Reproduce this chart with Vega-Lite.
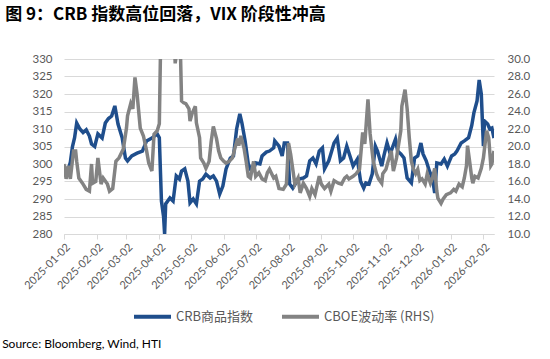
{
  "$schema": "https://vega.github.io/schema/vega-lite/v6.json",
  "background": "white",
  "padding": {"left": 2, "top": 6, "right": 5, "bottom": 2},
  "config": {"view": {"stroke": null}, "font": "Lato", "axis": {"labelOverlap": false}, "axisX": {"labelOverlap": false}},
  "title": {"text": "Source: Bloomberg, Wind, HTI", "orient": "bottom", "anchor": "start", "frame": "bounds", "font": "Lato", "fontSize": 12, "fontWeight": "normal", "color": "#000000", "offset": 14, "dx": -3},
  "datasets": {
    "crb": [
      {"date":"2025-01-02","crb":299.5},{"date":"2025-01-05","crb":297.4},{"date":"2025-01-08","crb":300.5},{"date":"2025-01-10","crb":305.0},{"date":"2025-01-12","crb":307.5},{"date":"2025-01-14","crb":311.7},{"date":"2025-01-17","crb":310.0},{"date":"2025-01-20","crb":309.0},{"date":"2025-01-23","crb":309.8},{"date":"2025-01-26","crb":308.0},{"date":"2025-01-28","crb":305.7},{"date":"2025-01-31","crb":305.0},
      {"date":"2025-02-03","crb":308.6},{"date":"2025-02-07","crb":307.4},{"date":"2025-02-10","crb":311.7},{"date":"2025-02-13","crb":313.0},{"date":"2025-02-16","crb":313.7},{"date":"2025-02-19","crb":316.6},{"date":"2025-02-22","crb":311.4},{"date":"2025-02-26","crb":307.4},
      {"date":"2025-03-01","crb":301.7},{"date":"2025-03-03","crb":300.9},{"date":"2025-03-07","crb":302.3},{"date":"2025-03-12","crb":303.1},{"date":"2025-03-17","crb":303.7},{"date":"2025-03-21","crb":306.6},{"date":"2025-03-26","crb":307.4},{"date":"2025-03-31","crb":308.6},
      {"date":"2025-04-02","crb":307.5},{"date":"2025-04-04","crb":289.4},{"date":"2025-04-06","crb":285.0},{"date":"2025-04-07","crb":280.0},{"date":"2025-04-08","crb":288.6},{"date":"2025-04-12","crb":290.3},{"date":"2025-04-15","crb":289.4},{"date":"2025-04-18","crb":296.6},{"date":"2025-04-21","crb":295.7},{"date":"2025-04-23","crb":298.0},{"date":"2025-04-26","crb":298.6},{"date":"2025-04-29","crb":295.1},
      {"date":"2025-05-01","crb":288.9},{"date":"2025-05-04","crb":290.0},{"date":"2025-05-07","crb":288.6},{"date":"2025-05-10","crb":295.1},{"date":"2025-05-13","crb":295.7},{"date":"2025-05-16","crb":297.1},{"date":"2025-05-20","crb":296.0},{"date":"2025-05-23","crb":296.6},{"date":"2025-05-26","crb":295.1},{"date":"2025-05-29","crb":291.4},
      {"date":"2025-06-01","crb":293.7},{"date":"2025-06-04","crb":298.6},{"date":"2025-06-08","crb":301.7},{"date":"2025-06-11","crb":302.3},{"date":"2025-06-14","crb":310.0},{"date":"2025-06-17","crb":314.3},{"date":"2025-06-19","crb":311.7},{"date":"2025-06-22","crb":306.6},{"date":"2025-06-25","crb":300.0},{"date":"2025-06-27","crb":298.6},
      {"date":"2025-07-01","crb":299.4},{"date":"2025-07-02","crb":300.3},{"date":"2025-07-06","crb":300.0},{"date":"2025-07-08","crb":302.3},{"date":"2025-07-12","crb":303.4},{"date":"2025-07-15","crb":303.7},{"date":"2025-07-19","crb":304.6},{"date":"2025-07-20","crb":306.6},{"date":"2025-07-24","crb":305.1},{"date":"2025-07-27","crb":302.3},{"date":"2025-07-29","crb":306.0},
      {"date":"2025-08-01","crb":306.0},{"date":"2025-08-03","crb":294.3},{"date":"2025-08-06","crb":293.1},{"date":"2025-08-09","crb":294.6},{"date":"2025-08-12","crb":295.7},{"date":"2025-08-16","crb":296.0},{"date":"2025-08-19","crb":296.6},{"date":"2025-08-22","crb":300.9},{"date":"2025-08-25","crb":301.7},{"date":"2025-08-28","crb":300.0},{"date":"2025-08-31","crb":303.7},
      {"date":"2025-09-03","crb":304.6},{"date":"2025-09-05","crb":298.6},{"date":"2025-09-09","crb":300.9},{"date":"2025-09-11","crb":302.9},{"date":"2025-09-14","crb":306.0},{"date":"2025-09-17","crb":307.4},{"date":"2025-09-20","crb":300.9},{"date":"2025-09-23","crb":301.7},{"date":"2025-09-26","crb":305.1},{"date":"2025-09-29","crb":302.3},
      {"date":"2025-10-02","crb":299.4},{"date":"2025-10-06","crb":301.4},{"date":"2025-10-09","crb":295.1},{"date":"2025-10-12","crb":293.1},{"date":"2025-10-14","crb":294.6},{"date":"2025-10-17","crb":294.3},{"date":"2025-10-20","crb":297.1},{"date":"2025-10-23","crb":305.1},{"date":"2025-10-25","crb":303.7},{"date":"2025-10-29","crb":299.4},{"date":"2025-10-31","crb":302.3},
      {"date":"2025-11-03","crb":306.0},{"date":"2025-11-06","crb":302.9},{"date":"2025-11-08","crb":304.6},{"date":"2025-11-11","crb":307.1},{"date":"2025-11-13","crb":303.7},{"date":"2025-11-16","crb":302.9},{"date":"2025-11-19","crb":301.7},{"date":"2025-11-22","crb":296.0},{"date":"2025-11-26","crb":294.6},{"date":"2025-11-29","crb":301.7},
      {"date":"2025-12-02","crb":302.3},{"date":"2025-12-05","crb":306.0},{"date":"2025-12-07","crb":302.9},{"date":"2025-12-10","crb":300.9},{"date":"2025-12-13","crb":298.0},{"date":"2025-12-16","crb":295.7},{"date":"2025-12-18","crb":291.7},{"date":"2025-12-20","crb":300.3},{"date":"2025-12-24","crb":300.0},{"date":"2025-12-27","crb":301.4},{"date":"2025-12-30","crb":299.4},
      {"date":"2026-01-03","crb":302.3},{"date":"2026-01-06","crb":302.9},{"date":"2026-01-08","crb":303.7},{"date":"2026-01-12","crb":306.0},{"date":"2026-01-15","crb":306.6},{"date":"2026-01-19","crb":307.5},{"date":"2026-01-22","crb":311.0},{"date":"2026-01-24","crb":314.6},{"date":"2026-01-27","crb":318.0},{"date":"2026-01-29","crb":324.0},{"date":"2026-01-31","crb":320.0},
      {"date":"2026-02-02","crb":305.1},{"date":"2026-02-03","crb":312.3},{"date":"2026-02-06","crb":311.4},{"date":"2026-02-08","crb":310.0},{"date":"2026-02-10","crb":310.3},{"date":"2026-02-12","crb":307.4}
    ],
    "vix": [
      {"date":"2025-01-02","vix":18.0},{"date":"2025-01-04","vix":16.3},{"date":"2025-01-06","vix":17.8},{"date":"2025-01-08","vix":16.3},{"date":"2025-01-11","vix":19.5},{"date":"2025-01-13","vix":19.5},{"date":"2025-01-14","vix":18.3},{"date":"2025-01-16","vix":16.4},{"date":"2025-01-20","vix":15.7},{"date":"2025-01-23","vix":15.1},{"date":"2025-01-26","vix":14.9},{"date":"2025-01-28","vix":18.0},{"date":"2025-01-29","vix":15.8},
      {"date":"2025-02-01","vix":16.0},{"date":"2025-02-03","vix":18.7},{"date":"2025-02-06","vix":15.7},{"date":"2025-02-08","vix":16.4},{"date":"2025-02-12","vix":15.7},{"date":"2025-02-14","vix":14.9},{"date":"2025-02-17","vix":15.2},{"date":"2025-02-20","vix":18.3},{"date":"2025-02-23","vix":18.7},{"date":"2025-02-27","vix":19.7},
      {"date":"2025-03-02","vix":22.1},{"date":"2025-03-03","vix":23.5},{"date":"2025-03-06","vix":24.9},{"date":"2025-03-08","vix":24.3},{"date":"2025-03-10","vix":27.9},{"date":"2025-03-12","vix":26.0},{"date":"2025-03-15","vix":22.1},{"date":"2025-03-18","vix":21.2},{"date":"2025-03-21","vix":19.5},{"date":"2025-03-23","vix":18.1},{"date":"2025-03-26","vix":17.2},{"date":"2025-03-28","vix":21.4},{"date":"2025-03-31","vix":21.8},
      {"date":"2025-04-02","vix":22.6},{"date":"2025-04-03","vix":30.0},{"date":"2025-04-04","vix":45.0},{"date":"2025-04-07","vix":47.0},{"date":"2025-04-08","vix":52.0},{"date":"2025-04-09","vix":34.0},{"date":"2025-04-10","vix":40.0},{"date":"2025-04-11","vix":37.5},{"date":"2025-04-14","vix":31.0},{"date":"2025-04-15","vix":30.2},{"date":"2025-04-16","vix":32.5},{"date":"2025-04-17","vix":29.5},{"date":"2025-04-21","vix":33.5},{"date":"2025-04-22","vix":30.5},{"date":"2025-04-23","vix":25.2},{"date":"2025-04-25","vix":25.0},{"date":"2025-04-27","vix":24.9},{"date":"2025-04-30","vix":24.3},
      {"date":"2025-05-01","vix":22.9},{"date":"2025-05-03","vix":23.8},{"date":"2025-05-06","vix":24.6},{"date":"2025-05-07","vix":22.7},{"date":"2025-05-10","vix":21.0},{"date":"2025-05-11","vix":18.7},{"date":"2025-05-14","vix":18.1},{"date":"2025-05-16","vix":17.5},{"date":"2025-05-19","vix":18.3},{"date":"2025-05-21","vix":20.6},{"date":"2025-05-23","vix":22.3},{"date":"2025-05-26","vix":20.9},{"date":"2025-05-28","vix":19.5},{"date":"2025-05-30","vix":18.7},
      {"date":"2025-06-02","vix":18.3},{"date":"2025-06-04","vix":18.1},{"date":"2025-06-07","vix":18.3},{"date":"2025-06-10","vix":18.7},{"date":"2025-06-13","vix":20.1},{"date":"2025-06-15","vix":20.9},{"date":"2025-06-16","vix":20.1},{"date":"2025-06-18","vix":21.2},{"date":"2025-06-21","vix":19.8},{"date":"2025-06-23","vix":18.3},{"date":"2025-06-25","vix":16.6},{"date":"2025-06-27","vix":16.4},{"date":"2025-06-30","vix":18.3},
      {"date":"2025-07-02","vix":16.6},{"date":"2025-07-05","vix":17.0},{"date":"2025-07-08","vix":16.3},{"date":"2025-07-11","vix":16.1},{"date":"2025-07-13","vix":17.0},{"date":"2025-07-15","vix":17.4},{"date":"2025-07-19","vix":16.4},{"date":"2025-07-21","vix":16.6},{"date":"2025-07-24","vix":15.2},{"date":"2025-07-28","vix":15.1},{"date":"2025-07-31","vix":15.7},
      {"date":"2025-08-02","vix":20.4},{"date":"2025-08-04","vix":19.1},{"date":"2025-08-06","vix":17.4},{"date":"2025-08-08","vix":15.7},{"date":"2025-08-11","vix":16.4},{"date":"2025-08-13","vix":14.7},{"date":"2025-08-16","vix":15.8},{"date":"2025-08-19","vix":15.2},{"date":"2025-08-22","vix":14.3},{"date":"2025-08-24","vix":15.2},{"date":"2025-08-27","vix":14.5},{"date":"2025-08-31","vix":16.6},
      {"date":"2025-09-02","vix":15.7},{"date":"2025-09-05","vix":15.2},{"date":"2025-09-09","vix":15.7},{"date":"2025-09-11","vix":14.9},{"date":"2025-09-14","vix":16.1},{"date":"2025-09-18","vix":15.8},{"date":"2025-09-21","vix":15.7},{"date":"2025-09-24","vix":16.4},{"date":"2025-09-26","vix":16.6},{"date":"2025-09-28","vix":16.3},
      {"date":"2025-10-02","vix":16.6},{"date":"2025-10-05","vix":16.9},{"date":"2025-10-08","vix":17.4},{"date":"2025-10-11","vix":21.6},{"date":"2025-10-12","vix":21.0},{"date":"2025-10-13","vix":20.3},{"date":"2025-10-16","vix":25.4},{"date":"2025-10-18","vix":21.5},{"date":"2025-10-21","vix":18.3},{"date":"2025-10-24","vix":16.9},{"date":"2025-10-26","vix":16.3},{"date":"2025-10-29","vix":15.8},{"date":"2025-10-30","vix":16.9},
      {"date":"2025-11-02","vix":17.4},{"date":"2025-11-04","vix":18.3},{"date":"2025-11-07","vix":19.5},{"date":"2025-11-09","vix":17.2},{"date":"2025-11-12","vix":18.7},{"date":"2025-11-14","vix":20.3},{"date":"2025-11-16","vix":21.8},{"date":"2025-11-17","vix":24.6},{"date":"2025-11-20","vix":26.5},{"date":"2025-11-22","vix":24.3},{"date":"2025-11-24","vix":21.0},{"date":"2025-11-26","vix":18.3},{"date":"2025-11-28","vix":17.4},{"date":"2025-11-30","vix":16.9},
      {"date":"2025-12-02","vix":17.4},{"date":"2025-12-04","vix":16.1},{"date":"2025-12-06","vix":16.3},{"date":"2025-12-09","vix":15.7},{"date":"2025-12-11","vix":16.9},{"date":"2025-12-14","vix":15.8},{"date":"2025-12-16","vix":16.4},{"date":"2025-12-18","vix":17.5},{"date":"2025-12-20","vix":14.9},{"date":"2025-12-21","vix":14.1},{"date":"2025-12-24","vix":13.5},{"date":"2025-12-26","vix":14.0},{"date":"2025-12-29","vix":14.5},
      {"date":"2026-01-02","vix":14.7},{"date":"2026-01-05","vix":15.1},{"date":"2026-01-07","vix":14.9},{"date":"2026-01-10","vix":15.7},{"date":"2026-01-13","vix":15.4},{"date":"2026-01-15","vix":16.4},{"date":"2026-01-17","vix":17.8},{"date":"2026-01-18","vix":20.1},{"date":"2026-01-20","vix":18.3},{"date":"2026-01-22","vix":16.4},{"date":"2026-01-23","vix":15.8},{"date":"2026-01-25","vix":16.6},{"date":"2026-01-28","vix":16.4},{"date":"2026-01-31","vix":17.5},
      {"date":"2026-02-02","vix":18.7},{"date":"2026-02-05","vix":21.8},{"date":"2026-02-07","vix":21.0},{"date":"2026-02-09","vix":17.8},{"date":"2026-02-10","vix":18.0},{"date":"2026-02-12","vix":19.5}
    ]
  },
  "vconcat": [
    {
      "title": {"text": "图 9：CRB 指数高位回落，VIX 阶段性冲高", "anchor": "start", "frame": "bounds", "font": "Noto Sans CJK SC", "fontSize": 17, "fontWeight": "bold", "color": "#000000", "offset": 29, "dx": -17},
      "width": 430,
      "height": 175,
      "layer": [
        {
          "data": {"name": "crb"},
          "mark": {"type": "line", "strokeWidth": 3.5, "clip": true},
          "encoding": {
            "x": {
              "field": "date", "type": "temporal",
              "scale": {"type": "utc", "nice": false, "domain": [{"year": 2025, "month": 1, "date": 2, "utc": true}, {"year": 2026, "month": 2, "date": 12, "utc": true}]},
              "axis": {
                "values": [1735776000000, 1738454400000, 1740873600000, 1743552000000, 1746144000000, 1748822400000, 1751414400000, 1754092800000, 1756771200000, 1759363200000, 1762041600000, 1764633600000, 1767312000000, 1769990400000],
                "labelExpr": "utcFormat(datum.value, '%Y-%m-%d')",
                "labelAngle": -45, "labelFontSize": 11, "labelColor": "#595959", "labelPadding": 2,
                "grid": false, "domainColor": "#d9d9d9", "tickColor": "#d9d9d9", "tickSize": 5,
                "title": null, "labelOverlap": false, "labelSeparation": 0
              }
            },
            "y": {
              "field": "crb", "type": "quantitative",
              "scale": {"domain": [280, 330], "nice": false, "zero": false},
              "axis": {"orient": "left", "values": [280, 285, 290, 295, 300, 305, 310, 315, 320, 325, 330], "domain": false, "ticks": false, "grid": true, "gridColor": "#d9d9d9", "labelColor": "#595959", "labelFontSize": 11.5, "labelPadding": 12, "title": null}
            },
            "color": {"datum": "CRB商品指数", "type": "nominal",
              "scale": {"domain": ["CRB商品指数", "CBOE波动率 (RHS)"], "range": ["#1f4e8c", "#838383"]},
              "legend": {"orient": "none", "legendX": 68, "legendY": 237, "direction": "horizontal", "title": null, "symbolType": "stroke", "symbolStrokeWidth": 4, "symbolSize": 1369, "labelFont": "Noto Sans CJK SC", "labelFontSize": 13, "labelColor": "#595959", "labelOffset": 3, "columnPadding": 20}
            }
          }
        },
        {
          "data": {"name": "vix"},
          "mark": {"type": "line", "strokeWidth": 3.5, "clip": true},
          "encoding": {
            "x": {
              "field": "date", "type": "temporal",
              "scale": {"type": "utc", "nice": false, "domain": [{"year": 2025, "month": 1, "date": 2, "utc": true}, {"year": 2026, "month": 2, "date": 12, "utc": true}]},
              "axis": {
                "values": [1735776000000, 1738454400000, 1740873600000, 1743552000000, 1746144000000, 1748822400000, 1751414400000, 1754092800000, 1756771200000, 1759363200000, 1762041600000, 1764633600000, 1767312000000, 1769990400000],
                "labelExpr": "utcFormat(datum.value, '%Y-%m-%d')",
                "labelAngle": -45, "labelFontSize": 11, "labelColor": "#595959", "labelPadding": 2,
                "grid": false, "domainColor": "#d9d9d9", "tickColor": "#d9d9d9", "tickSize": 5,
                "title": null, "labelOverlap": false, "labelSeparation": 0
              }
            },
            "y": {
              "field": "vix", "type": "quantitative",
              "scale": {"domain": [10, 30], "nice": false, "zero": false},
              "axis": {"orient": "right", "values": [10, 12, 14, 16, 18, 20, 22, 24, 26, 28, 30], "format": ".1f", "domain": false, "ticks": false, "grid": false, "labelColor": "#595959", "labelFontSize": 11.5, "labelPadding": 13, "title": null}
            },
            "color": {"datum": "CBOE波动率 (RHS)", "type": "nominal"}
          }
        }
      ],
      "resolve": {"scale": {"y": "independent"}}
    }
  ]
}
